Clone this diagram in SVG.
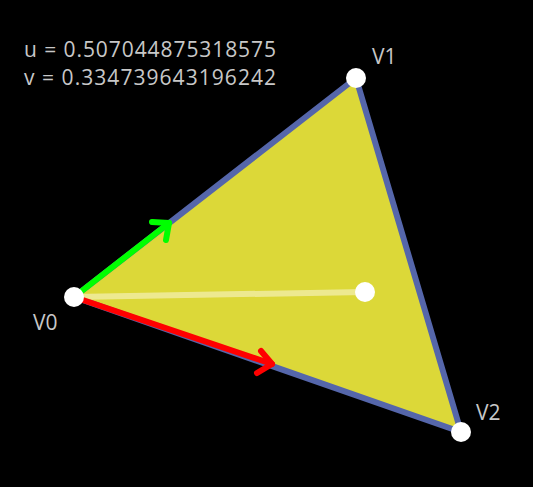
<svg xmlns="http://www.w3.org/2000/svg" width="533" height="487" viewBox="0 0 533 487">
<style>
.lbl{font-family:"Open Sans","Noto Sans","DejaVu Sans",sans-serif;font-size:21px;fill:#c8c8c8}
.info{font-family:"Open Sans","Noto Sans","DejaVu Sans",sans-serif;font-size:21px;fill:#c8c8c8}
.vtx{fill:#ffffff}
.arrow{fill:none;stroke-width:6;stroke-linecap:round;stroke-linejoin:round}
</style>
<rect x="0" y="0" width="533" height="487" fill="#000000"/>
<g id="triangle">
<polygon points="74,297 356,78 461,432" fill="#dcd838" stroke="#5566aa" stroke-width="6" stroke-linejoin="round"/>
</g>
<g id="connectors">
<line x1="74" y1="297" x2="365" y2="292" stroke="#f0eca0" stroke-width="6" stroke-opacity="0.85"/>
<g id="u-arrow" class="arrow" stroke="#00ff00">
<line x1="74" y1="297" x2="169" y2="223"/>
<polyline points="152,222 169,223 166,240"/>
</g>
<g id="v-arrow" class="arrow" stroke="#ff0000">
<line x1="74" y1="297" x2="272" y2="364"/>
<polyline points="261,351 272,364 257,373"/>
</g>
</g>
<g id="V0"><circle class="vtx" cx="74" cy="297" r="10"/><text class="lbl" x="33" y="330">V0</text></g>
<g id="V1"><circle class="vtx" cx="356" cy="78" r="10"/><text class="lbl" x="372" y="64">V1</text></g>
<g id="V2"><circle class="vtx" cx="461" cy="432" r="10"/><text class="lbl" x="476" y="420">V2</text></g>
<g id="P"><circle class="vtx" cx="365" cy="292" r="10"/></g>
<g id="info">
<text class="info" x="24" y="57" textLength="252" lengthAdjust="spacing">u = 0.507044875318575</text>
<text class="info" x="24" y="85" textLength="252" lengthAdjust="spacing">v = 0.334739643196242</text>
</g>
</svg>
